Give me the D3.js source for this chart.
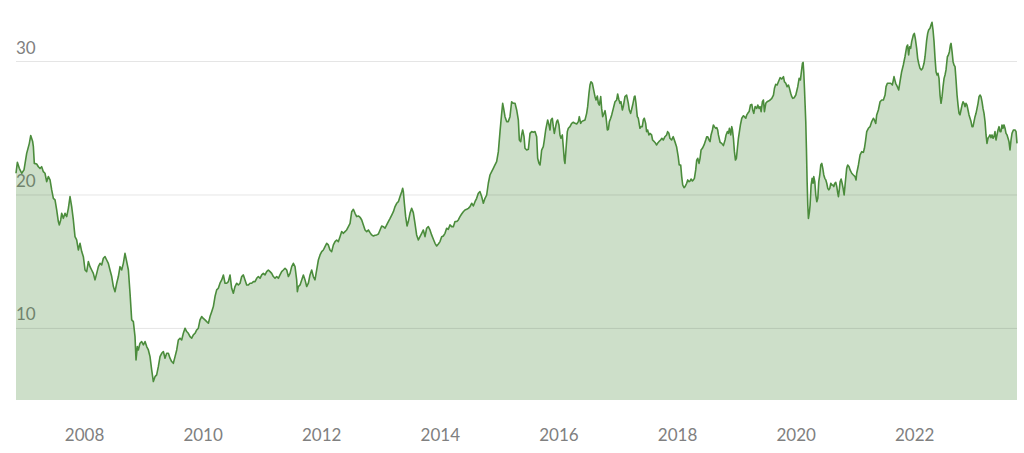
<!DOCTYPE html>
<html><head><meta charset="utf-8">
<script src="https://cdn.jsdelivr.net/npm/d3@7"></script>
<style>body{margin:0;background:#fff;overflow:hidden}</style>
</head><body>
<svg id="chart" width="1024" height="453"></svg>
<script>
// decimal-year positions of each observation
const years = [
2006.853,2006.876,2006.909,2006.949,2006.988,2007.033,2007.078,2007.101,2007.134,2007.146,2007.162,2007.202,2007.230,2007.258,2007.286,2007.314,2007.342,2007.370,2007.399,2007.427,2007.455,2007.483,2007.511,2007.539,2007.567,2007.584,2007.607,2007.623,2007.651,2007.680,2007.708,2007.736,2007.764,2007.792,2007.820,2007.848,2007.876,2007.904,2007.933,2007.961,2007.989,
2008.017,2008.045,2008.073,2008.101,2008.129,2008.157,2008.185,2008.214,2008.242,2008.270,2008.298,2008.326,2008.354,2008.382,2008.410,2008.438,2008.467,2008.495,2008.523,2008.551,2008.579,2008.607,2008.635,2008.663,2008.691,2008.720,2008.748,2008.776,2008.804,2008.832,2008.860,2008.877,2008.899,2008.916,2008.944,2008.972,
2009.001,2009.029,2009.057,2009.085,2009.113,2009.141,2009.169,2009.197,2009.225,2009.253,2009.282,2009.310,2009.338,2009.366,2009.394,2009.422,2009.450,2009.478,2009.506,2009.535,2009.563,2009.591,2009.619,2009.647,2009.675,2009.703,2009.731,2009.759,2009.788,2009.816,2009.844,2009.872,2009.900,2009.928,2009.956,2009.984,
2010.012,2010.040,2010.069,2010.097,2010.125,2010.153,2010.181,2010.209,2010.237,2010.265,2010.293,2010.322,2010.350,2010.378,2010.406,2010.434,2010.462,2010.490,2010.518,2010.546,2010.575,2010.603,2010.631,2010.659,2010.687,2010.715,2010.743,2010.771,2010.799,2010.827,2010.856,2010.884,2010.912,2010.940,2010.968,2010.996,
2011.024,2011.052,2011.080,2011.108,2011.137,2011.165,2011.193,2011.221,2011.249,2011.277,2011.305,2011.333,2011.361,2011.390,2011.418,2011.446,2011.474,2011.502,2011.530,2011.558,2011.586,2011.598,2011.614,2011.643,2011.671,2011.699,2011.727,2011.755,2011.783,2011.811,2011.839,2011.867,2011.895,2011.923,2011.952,2011.980,
2012.008,2012.036,2012.064,2012.092,2012.120,2012.148,2012.176,2012.205,2012.233,2012.261,2012.289,2012.317,2012.345,2012.373,2012.401,2012.429,2012.458,2012.486,2012.514,2012.542,2012.570,2012.598,2012.627,2012.655,2012.683,2012.711,2012.739,2012.767,2012.795,2012.823,2012.851,2012.880,2012.908,2012.936,2012.964,2012.992,
2013.020,2013.048,2013.076,2013.104,2013.132,2013.161,2013.189,2013.217,2013.245,2013.273,2013.301,2013.329,2013.357,2013.374,2013.385,2013.402,2013.424,2013.447,2013.469,2013.497,2013.525,2013.553,2013.581,2013.609,2013.638,2013.666,2013.694,2013.722,2013.750,2013.778,2013.806,2013.834,2013.862,2013.891,2013.919,2013.947,2013.975,
2014.003,2014.031,2014.059,2014.087,2014.115,2014.143,2014.172,2014.200,2014.228,2014.256,2014.284,2014.312,2014.340,2014.368,2014.396,2014.424,2014.453,2014.481,2014.509,2014.537,2014.565,2014.593,2014.621,2014.649,2014.677,2014.706,2014.734,2014.762,2014.790,2014.818,2014.846,2014.874,2014.902,2014.930,2014.958,2014.987,
2015.015,2015.043,2015.060,2015.076,2015.099,2015.127,2015.155,2015.183,2015.211,2015.239,2015.268,2015.296,2015.324,2015.341,2015.364,2015.380,2015.397,2015.420,2015.436,2015.465,2015.493,2015.521,2015.549,2015.577,2015.605,2015.633,2015.650,2015.672,2015.690,2015.706,2015.717,2015.745,2015.762,2015.785,2015.802,2015.819,2015.841,2015.858,2015.875,2015.897,2015.914,2015.931,2015.953,2015.970,2015.987,
2016.009,2016.026,2016.043,2016.066,2016.082,2016.099,2016.110,2016.127,2016.150,2016.167,2016.195,2016.223,2016.251,2016.279,2016.308,2016.336,2016.352,2016.375,2016.392,2016.420,2016.448,2016.476,2016.493,2016.515,2016.532,2016.549,2016.572,2016.589,2016.617,2016.634,2016.656,2016.673,2016.690,2016.713,2016.729,2016.746,2016.769,2016.786,2016.802,2016.825,2016.842,2016.859,2016.881,2016.898,2016.926,2016.954,2016.982,2016.999,
2017.021,2017.038,2017.055,2017.078,2017.094,2017.122,2017.150,2017.179,2017.195,2017.218,2017.252,2017.280,2017.291,2017.308,2017.330,2017.347,2017.375,2017.392,2017.414,2017.431,2017.448,2017.471,2017.487,2017.504,2017.527,2017.543,2017.571,2017.588,2017.616,2017.639,2017.656,2017.672,2017.695,2017.723,2017.745,2017.768,2017.796,2017.824,2017.841,2017.863,2017.880,2017.908,2017.936,2017.964,2017.992,
2018.020,2018.037,2018.062,2018.079,2018.096,2018.118,2018.135,2018.163,2018.180,2018.203,2018.220,2018.236,2018.259,2018.276,2018.293,2018.315,2018.332,2018.349,2018.371,2018.388,2018.405,2018.428,2018.456,2018.484,2018.501,2018.518,2018.540,2018.557,2018.574,2018.597,2018.613,2018.630,2018.653,2018.670,2018.686,2018.698,2018.726,2018.754,2018.782,2018.810,2018.827,2018.850,2018.867,2018.884,2018.906,2018.923,2018.935,2018.951,2018.968,2018.985,
2019.001,2019.018,2019.035,2019.052,2019.069,2019.092,2019.120,2019.137,2019.159,2019.176,2019.193,2019.216,2019.238,2019.261,2019.277,2019.294,2019.317,2019.345,2019.362,2019.384,2019.401,2019.418,2019.440,2019.457,2019.474,2019.497,2019.519,2019.542,2019.570,2019.598,2019.626,2019.643,2019.665,2019.688,2019.710,2019.738,2019.766,2019.795,2019.811,2019.834,2019.856,2019.879,2019.896,2019.917,2019.935,2019.952,2019.975,
2020.003,2020.019,2020.036,2020.059,2020.081,2020.104,2020.115,2020.126,2020.137,2020.149,2020.160,2020.171,2020.182,2020.194,2020.205,2020.216,2020.233,2020.244,2020.261,2020.278,2020.295,2020.306,2020.323,2020.340,2020.357,2020.374,2020.390,2020.407,2020.424,2020.441,2020.458,2020.475,2020.492,2020.509,2020.525,2020.542,2020.559,2020.576,2020.593,2020.610,2020.627,2020.644,2020.660,2020.677,2020.694,2020.711,2020.722,2020.739,2020.750,2020.767,2020.784,2020.801,2020.818,2020.839,2020.861,2020.878,2020.901,2020.918,2020.946,2020.974,
2021.002,2021.019,2021.030,2021.059,2021.087,2021.115,2021.143,2021.160,2021.177,2021.199,2021.227,2021.255,2021.283,2021.311,2021.328,2021.351,2021.367,2021.395,2021.424,2021.452,2021.480,2021.508,2021.525,2021.547,2021.575,2021.603,2021.631,2021.659,2021.687,2021.715,2021.738,2021.760,2021.788,2021.816,2021.844,2021.873,2021.889,2021.906,2021.923,2021.940,2021.957,2021.985,
2022.002,2022.018,2022.041,2022.058,2022.075,2022.097,2022.120,2022.142,2022.165,2022.182,2022.210,2022.227,2022.243,2022.266,2022.283,2022.300,2022.317,2022.334,2022.351,2022.368,2022.385,2022.401,2022.418,2022.435,2022.452,2022.469,2022.486,2022.503,2022.519,2022.536,2022.559,2022.576,2022.593,2022.610,2022.621,2022.638,2022.655,2022.671,2022.688,2022.705,2022.722,2022.739,2022.756,2022.772,2022.789,2022.806,2022.823,2022.840,2022.856,2022.873,2022.890,2022.907,2022.924,2022.941,2022.958,2022.974,2022.991,
2023.008,2023.025,2023.042,2023.059,2023.076,2023.093,2023.109,2023.126,2023.143,2023.160,2023.177,2023.194,2023.211,2023.227,2023.244,2023.261,2023.278,2023.295,2023.312,2023.329,2023.345,2023.362,2023.379,2023.396,2023.413,2023.430,2023.447,2023.463,2023.480,2023.497,2023.514,2023.531,2023.548,2023.565,2023.582,2023.598,2023.615,2023.632,2023.649,2023.672,2023.700,2023.717,2023.733
];
// price at each observation
const prices = [
21.59,22.41,21.96,21.59,21.84,23.08,23.83,24.41,23.96,23.58,22.33,22.28,22.08,21.96,22.08,21.71,21.59,20.96,21.34,21.09,20.34,19.71,19.59,18.84,17.97,17.72,18.09,18.59,18.21,18.59,18.34,18.96,19.84,19.09,18.09,16.84,16.59,15.84,16.34,15.72,15.34,
14.34,14.22,14.97,14.59,14.34,14.09,13.60,14.09,14.59,14.84,14.72,15.22,15.34,15.09,14.84,14.34,13.85,13.10,12.72,13.35,13.85,14.59,14.34,14.84,15.59,14.97,14.34,12.60,10.60,10.47,9.35,7.60,8.60,8.35,8.85,8.98,
8.73,8.98,8.60,8.35,7.85,6.85,5.98,6.35,6.48,7.10,7.85,8.10,8.23,7.73,8.10,8.10,7.73,7.48,7.35,7.85,8.35,9.10,9.23,9.10,9.60,9.98,9.73,9.60,9.35,9.23,9.48,9.60,9.85,9.98,10.60,10.85,
10.72,10.60,10.47,10.35,10.85,11.22,11.60,12.35,12.85,12.97,13.35,13.60,13.97,13.35,13.35,13.47,13.97,12.97,12.60,13.10,13.35,13.22,13.35,13.85,13.97,13.60,13.22,13.22,13.35,13.35,13.47,13.47,13.72,13.85,13.72,13.97,
14.09,13.97,14.22,14.34,14.22,14.09,13.85,13.72,13.85,13.72,13.97,14.22,14.34,14.47,14.34,13.85,14.09,14.59,14.84,14.59,13.60,12.72,13.10,13.22,13.60,13.97,13.60,13.10,13.35,13.97,14.34,13.85,13.60,14.34,15.09,15.47,
15.72,15.84,16.09,16.34,16.22,15.84,15.72,16.22,16.47,16.59,16.47,16.84,17.22,17.09,17.22,17.34,17.59,17.84,18.71,18.89,18.59,18.34,18.39,18.29,18.09,17.72,17.34,17.22,17.34,17.14,16.97,16.89,16.94,16.97,17.04,17.34,
17.64,17.59,17.47,17.72,17.97,18.21,18.46,18.71,19.09,19.34,19.46,19.84,20.21,20.46,20.21,19.34,18.34,17.64,17.97,18.59,18.96,18.64,17.84,16.97,16.59,16.84,17.09,17.34,16.84,17.47,17.59,17.34,16.97,16.64,16.34,16.14,16.29,
16.47,16.84,16.89,17.09,17.47,17.39,17.72,17.59,17.59,17.97,17.97,18.09,18.34,18.54,18.71,18.84,18.89,18.96,19.09,19.34,19.14,19.46,19.71,20.09,20.21,19.84,19.34,19.71,19.96,20.84,21.46,21.71,21.96,22.21,22.46,23.21,
24.71,26.08,26.83,26.45,25.83,25.46,25.46,25.83,26.95,26.83,26.83,26.33,25.58,24.08,23.96,24.46,24.83,24.33,23.46,23.33,23.38,24.58,24.71,24.66,24.71,24.33,22.71,22.33,22.21,22.83,23.33,23.58,24.08,24.83,25.21,25.58,25.21,24.83,25.58,25.71,25.08,24.58,25.08,25.46,25.58,
25.21,24.46,24.21,24.46,23.58,22.58,22.33,23.33,24.71,24.96,25.08,25.33,25.41,25.33,25.28,25.46,25.83,25.33,25.46,25.53,25.58,26.08,26.58,27.58,28.20,28.45,28.33,27.95,27.33,27.08,27.38,26.83,26.70,27.33,26.45,25.83,26.08,26.28,25.83,24.83,24.88,25.46,25.71,25.96,26.45,26.95,27.08,27.53,
27.08,26.83,26.95,26.33,26.58,27.33,27.45,26.83,26.33,26.08,26.70,27.33,27.38,26.83,25.83,25.71,24.96,25.08,25.08,25.58,25.71,25.33,24.71,24.83,24.46,24.58,24.46,24.08,23.96,23.83,23.71,23.83,23.96,24.08,24.21,24.08,24.33,24.46,24.71,24.58,24.21,24.08,24.33,23.96,23.58,
22.83,22.21,22.21,21.34,20.71,20.51,20.59,20.84,21.09,20.96,21.01,21.16,21.01,21.09,21.21,21.84,22.58,22.71,22.33,22.71,23.33,23.46,23.71,24.08,24.33,24.33,24.08,23.96,24.46,24.83,25.21,25.08,24.96,25.01,24.83,24.46,23.91,23.83,23.66,24.08,24.46,24.71,24.58,24.96,24.46,25.08,24.83,24.21,23.21,22.58,
22.71,23.46,24.21,24.71,25.21,25.71,25.90,25.83,25.71,25.96,26.08,26.21,26.70,26.75,26.33,26.08,26.58,26.45,26.70,26.45,26.58,26.21,26.95,27.08,26.21,26.83,26.95,27.00,27.08,27.20,27.45,27.95,28.25,28.20,28.45,28.75,28.65,28.83,28.45,28.33,28.08,28.20,27.95,27.58,27.33,27.20,27.25,
27.45,27.75,28.08,28.70,28.58,29.45,29.83,29.90,29.20,27.95,26.70,25.46,23.46,20.96,19.21,18.21,18.71,19.21,20.71,21.21,20.84,21.34,20.96,19.96,19.46,19.71,20.96,21.46,22.21,22.33,21.96,21.46,21.21,21.09,20.84,20.46,20.34,20.46,20.84,20.71,20.71,20.59,20.84,20.91,20.59,20.09,19.84,20.46,20.96,21.16,20.84,20.46,19.96,20.96,21.96,22.21,22.08,21.84,21.59,21.46,
21.34,21.09,21.59,22.21,22.96,23.21,23.16,23.46,23.96,24.71,24.96,25.08,25.46,25.71,25.58,25.33,25.96,26.33,26.95,27.08,27.08,27.45,28.08,28.33,28.33,28.33,28.20,28.83,28.33,28.08,27.83,28.45,29.20,29.70,30.32,31.07,31.20,30.45,31.07,30.95,31.45,31.95,
32.07,31.70,30.95,30.20,29.83,29.45,29.33,29.45,29.83,30.32,31.57,32.07,32.32,32.45,32.70,32.90,32.32,31.45,30.20,29.20,28.95,29.08,28.70,27.45,26.83,27.33,28.08,28.70,28.95,29.33,30.32,30.45,30.70,31.20,31.32,30.70,29.95,29.70,29.58,28.58,27.45,26.70,26.08,25.96,26.33,26.70,26.95,26.83,26.58,26.83,26.70,26.33,25.96,25.71,25.46,25.08,25.08,
25.46,25.83,26.08,26.45,26.83,27.33,27.45,27.33,26.95,26.45,26.08,25.46,24.46,23.83,24.21,24.33,24.46,24.26,24.46,24.21,24.33,24.71,24.08,24.46,24.83,25.08,24.71,24.71,25.21,24.96,25.21,24.96,24.58,24.46,24.21,23.96,23.33,24.08,24.58,24.83,24.83,24.71,23.83
];
const yTicks = [10, 20, 30];
const xTicks = [2008, 2010, 2012, 2014, 2016, 2018, 2020, 2022];
const xTickLabels = ["2008", "2010", "2012", "2014", "2016", "2018", "2020", "2022"];
const yFloor = 4.6;
const yCeil = 33.5;

const plotL = 16, plotR = 1017, plotB = 400, plotT = 14.3;
const svg = d3.select('#chart');
const font = 'Lato, "Open Sans", sans-serif';
const textColor = '#808080';
const lineColor = '#4b8c3c';

const data = years.map((t, i) => ({ t, v: prices[i] }));
const x = d3.scaleLinear().domain(d3.extent(years)).range([plotL, plotR]);
const y = d3.scaleLinear().domain([yFloor, yCeil]).range([plotB, plotT]);

// y tick labels (drawn first so the area tints them)
const yAxis = d3.axisRight(y).tickValues(yTicks).tickSize(0).tickFormat(d3.format('d'));
const gyl = svg.append('g').attr('transform', `translate(${plotL},0)`).call(yAxis);
gyl.select('.domain').remove();
gyl.selectAll('text')
  .attr('x', 0).attr('dy', null).attr('y', -8)
  .attr('text-anchor', 'start')
  .style('font-family', font).style('font-size', '17px').attr('fill', textColor);

// area
svg.append('path').datum(data)
  .attr('d', d3.area().x(d => x(d.t)).y0(y(yFloor)).y1(d => y(d.v)))
  .attr('fill', lineColor).attr('fill-opacity', 0.28);

// gridlines drawn over the area
const gridAxis = d3.axisRight(y).tickValues(yTicks).tickSize(plotR - plotL).tickFormat('');
const gg = svg.append('g').attr('transform', `translate(${plotL},0)`).call(gridAxis);
gg.select('.domain').remove();
gg.selectAll('line').attr('stroke', '#000').attr('stroke-opacity', 0.1).attr('stroke-width', 1);

// line
svg.append('path').datum(data)
  .attr('d', d3.line().x(d => x(d.t)).y(d => y(d.v)))
  .attr('fill', 'none').attr('stroke', lineColor).attr('stroke-width', 1.6)
  .attr('stroke-linejoin', 'round');

// x axis labels
const xAxis = d3.axisBottom(x).tickValues(xTicks).tickSize(0).tickPadding(29)
  .tickFormat((d, i) => xTickLabels[i]);
const gx = svg.append('g').attr('transform', `translate(0,${plotB})`).call(xAxis);
gx.select('.domain').remove();
gx.selectAll('text').style('font-family', font).style('font-size', '17px').attr('fill', textColor);
</script>
</body></html>
